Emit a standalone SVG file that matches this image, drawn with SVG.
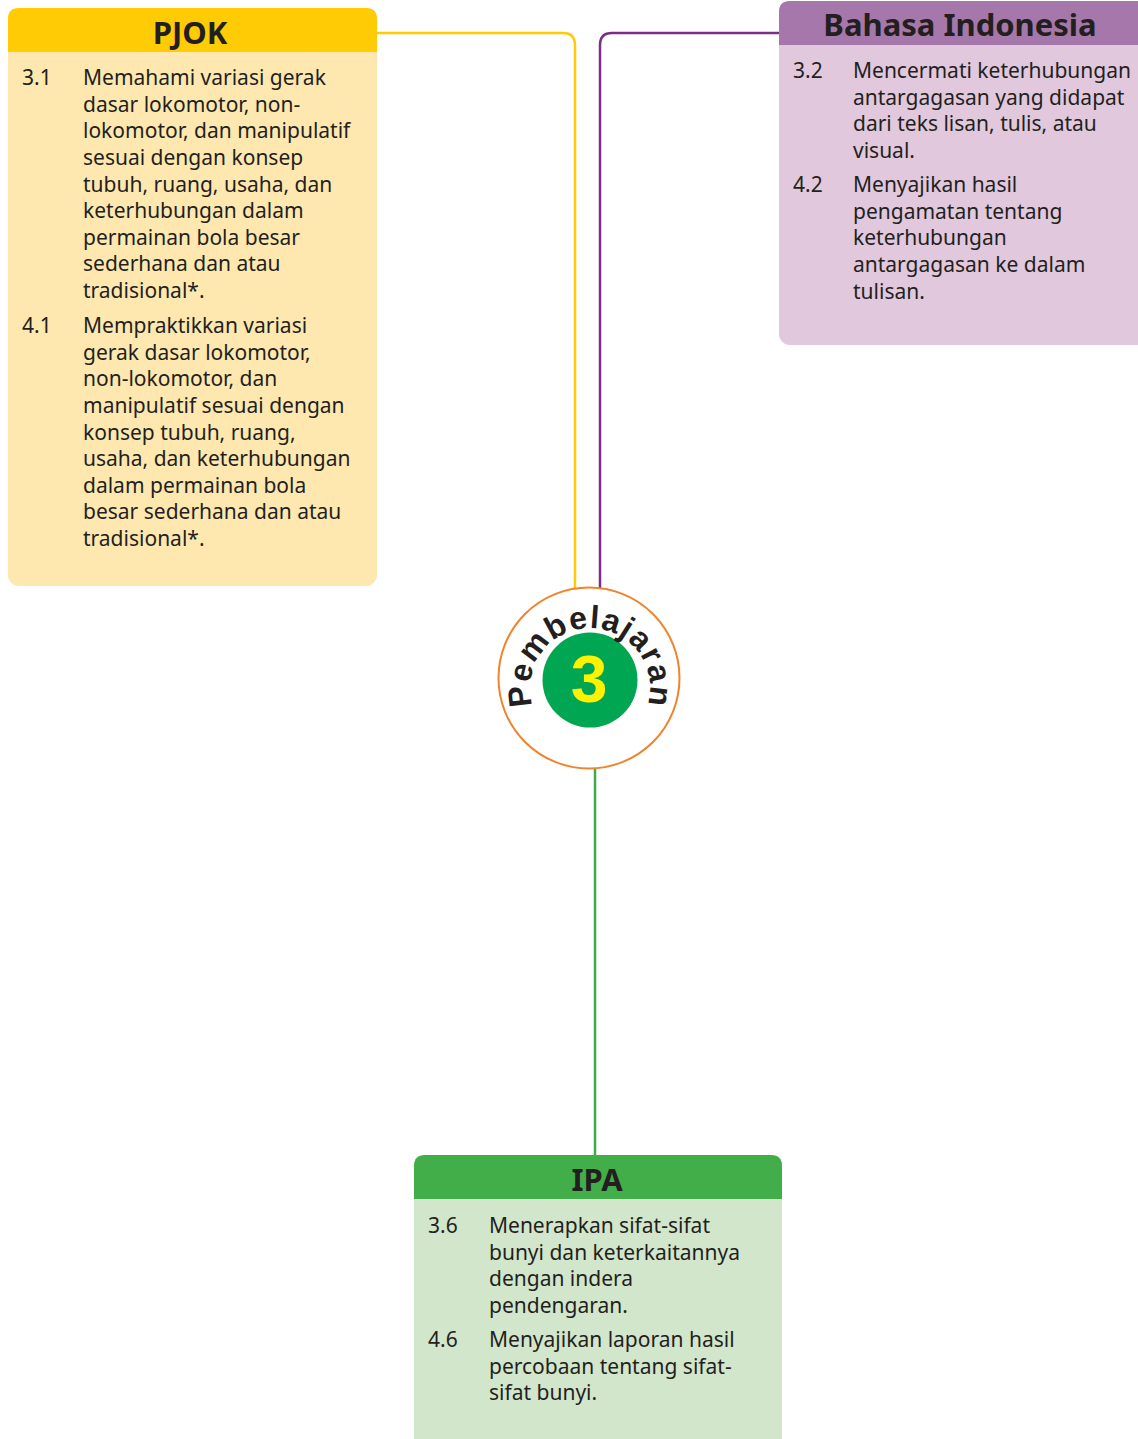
<svg xmlns="http://www.w3.org/2000/svg" width="1138" height="1439" viewBox="0 0 1138 1439">
<style>
.t{font-family:"Noto Sans","DejaVu Sans",sans-serif;font-size:21px;fill:#231F20}
.h{font-family:"Noto Sans","DejaVu Sans",sans-serif;font-size:31px;font-weight:700;fill:#231F20;text-anchor:middle}
.conn{fill:none;stroke-width:2.5}
</style>
<rect width="1138" height="1439" fill="#ffffff"/>
<g id="connectors">
<path class="conn" stroke="#FFCB05" d="M377,33 H563 Q575,33 575,45 V588"/>
<path class="conn" stroke="#7B2E86" d="M779,33 H612 Q600,33 600,45 V588"/>
<path class="conn" stroke="#3EAA48" d="M595,769 V1156"/>
</g>
<g id="pjok">
<rect x="8" y="8" width="369" height="578" rx="11" fill="#FEE8AF"/>
<path d="M8,52 V19 Q8,8 19,8 H366 Q377,8 377,19 V52 Z" fill="#FFCB05"/>
<text class="h" x="190" y="44">PJOK</text>
<text class="t" x="22" y="85">3.1</text>
<text class="t"><tspan x="83" y="85">Memahami variasi gerak</tspan><tspan x="83" y="111.5">dasar lokomotor, non-</tspan><tspan x="83" y="138">lokomotor, dan manipulatif</tspan><tspan x="83" y="165">sesuai dengan konsep</tspan><tspan x="83" y="191.5">tubuh, ruang, usaha, dan</tspan><tspan x="83" y="218">keterhubungan dalam</tspan><tspan x="83" y="245">permainan bola besar</tspan><tspan x="83" y="271">sederhana dan atau</tspan><tspan x="83" y="298">tradisional*.</tspan></text>
<text class="t" x="22" y="333">4.1</text>
<text class="t"><tspan x="83" y="333">Mempraktikkan variasi</tspan><tspan x="83" y="359.5">gerak dasar lokomotor,</tspan><tspan x="83" y="386">non-lokomotor, dan</tspan><tspan x="83" y="413">manipulatif sesuai dengan</tspan><tspan x="83" y="439.5">konsep tubuh, ruang,</tspan><tspan x="83" y="466">usaha, dan keterhubungan</tspan><tspan x="83" y="493">dalam permainan bola</tspan><tspan x="83" y="519">besar sederhana dan atau</tspan><tspan x="83" y="546">tradisional*.</tspan></text>
</g>
<g id="bahasa">
<rect x="779" y="1" width="370" height="344" rx="11" fill="#E1C8DC"/>
<path d="M779,45 V12 Q779,1 790,1 H1149 V45 Z" fill="#A577AA"/>
<text class="h" x="960" y="36">Bahasa Indonesia</text>
<text class="t" x="793" y="78">3.2</text>
<text class="t"><tspan x="853" y="78">Mencermati keterhubungan</tspan><tspan x="853" y="104.5">antargagasan yang didapat</tspan><tspan x="853" y="131">dari teks lisan, tulis, atau</tspan><tspan x="853" y="158">visual.</tspan></text>
<text class="t" x="793" y="192">4.2</text>
<text class="t"><tspan x="853" y="192">Menyajikan hasil</tspan><tspan x="853" y="219">pengamatan tentang</tspan><tspan x="853" y="245">keterhubungan</tspan><tspan x="853" y="272">antargagasan ke dalam</tspan><tspan x="853" y="299">tulisan.</tspan></text>
</g>
<g id="center">
<circle cx="589" cy="678" r="90.5" fill="#ffffff" stroke="#F0842C" stroke-width="2"/>
<circle cx="590" cy="680" r="47.5" fill="#00A651"/>
<text x="589" y="702" text-anchor="middle" font-family="'Liberation Sans',Arial,sans-serif" font-weight="700" font-size="66" fill="#FFF200">3</text>
<path id="arc" d="M535.6,713.4 A60,60 0 1 1 644.4,713.4" fill="none"/>
<text font-family="'Liberation Sans',Arial,sans-serif" font-weight="700" font-size="32" fill="#231F20" letter-spacing="1.3"><textPath href="#arc" startOffset="50%" text-anchor="middle">Pembelajaran</textPath></text>
</g>
<g id="ipa">
<rect x="414" y="1155" width="368" height="300" rx="11" fill="#D2E6CB"/>
<path d="M414,1199 V1166 Q414,1155 425,1155 H771 Q782,1155 782,1166 V1199 Z" fill="#42AE4A"/>
<text class="h" x="597" y="1191">IPA</text>
<text class="t" x="428" y="1233">3.6</text>
<text class="t"><tspan x="489" y="1233">Menerapkan sifat-sifat</tspan><tspan x="489" y="1260">bunyi dan keterkaitannya</tspan><tspan x="489" y="1286">dengan indera</tspan><tspan x="489" y="1313">pendengaran.</tspan></text>
<text class="t" x="428" y="1347">4.6</text>
<text class="t"><tspan x="489" y="1347">Menyajikan laporan hasil</tspan><tspan x="489" y="1374">percobaan tentang sifat-</tspan><tspan x="489" y="1400">sifat bunyi.</tspan></text>
</g>
</svg>
